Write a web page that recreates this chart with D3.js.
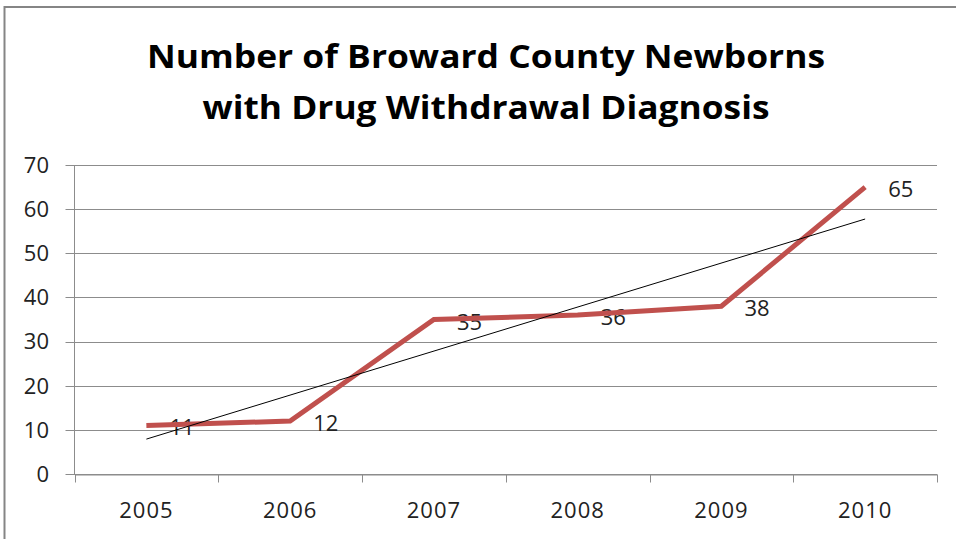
<!DOCTYPE html>
<html>
<head>
<meta charset="utf-8">
<script src="https://cdn.jsdelivr.net/npm/d3@7"></script>
<style>
  html, body { margin: 0; padding: 0; background: #fff; }
  svg { display: block; }
  text { font-family: "Open Sans", "Liberation Sans", sans-serif; }
</style>
</head>
<body>
<svg id="chart" width="956" height="539"></svg>
<script>
// Newborns diagnosed with drug withdrawal, Broward County
const years = ["2005", "2006", "2007", "2008", "2009", "2010"];
const cases = [11, 12, 35, 36, 38, 65];
const yTicks = [0, 10, 20, 30, 40, 50, 60, 70];
const titleLines = ["Number of Broward County Newborns", "with Drug Withdrawal Diagnosis"];

const svg = d3.select("#chart");
const W = 956, H = 539;
const plot = { left: 74.5, right: 937, top: 165, bottom: 474 };

// outer frame
svg.append("rect")
  .attr("x", 4.5).attr("y", 7)
  .attr("width", W + 20).attr("height", H + 20)
  .attr("fill", "#fff")
  .attr("stroke", "#858585").attr("stroke-width", 2);

// title, two centred lines fitted to their widths
const titleSpec = [
  { text: titleLines[0], y: 68, width: 678 },
  { text: titleLines[1], y: 119, width: 567 }
];
titleSpec.forEach(t => {
  const el = svg.append("text")
    .attr("x", 486).attr("y", t.y)
    .attr("text-anchor", "middle")
    .attr("font-size", 33).attr("font-weight", 700)
    .attr("fill", "#000")
    .text(t.text);
  const len = el.node().getComputedTextLength();
  if (Math.abs(len - t.width) > 2) {
    el.attr("textLength", t.width).attr("lengthAdjust", "spacingAndGlyphs");
  }
});

const x = d3.scaleBand().domain(years).range([plot.left, plot.right]).padding(0);
const y = d3.scaleLinear().domain([0, 70]).range([plot.bottom, plot.top]);

// horizontal gridlines with short tick stubs on the left
const grid = svg.append("g");
yTicks.forEach(v => {
  grid.append("line")
    .attr("x1", plot.left - 9).attr("x2", plot.right)
    .attr("y1", Math.round(y(v)) + 0.5).attr("y2", Math.round(y(v)) + 0.5)
    .attr("stroke", "#8c8c8c").attr("stroke-width", 1);
});

// y axis labels
const yAxis = svg.append("g");
yTicks.forEach(v => {
  yAxis.append("text")
    .attr("x", 49).attr("y", y(v))
    .attr("dy", "0.36em")
    .attr("text-anchor", "end")
    .attr("font-size", 22).attr("fill", "#222")
    .text(v);
});

// y axis line
svg.append("line")
  .attr("x1", plot.left).attr("x2", plot.left)
  .attr("y1", plot.top).attr("y2", plot.bottom)
  .attr("stroke", "#8c8c8c").attr("stroke-width", 1);

// x axis with ticks between categories
const xAxis = d3.axisBottom(x).tickSize(0).tickFormat(d => d);
const xg = svg.append("g")
  .attr("transform", `translate(0,${Math.round(plot.bottom) + 0.5})`)
  .call(xAxis);
xg.select(".domain").attr("stroke", "#8c8c8c");
xg.selectAll(".tick text")
  .attr("y", 0).attr("dy", 0)
  .attr("transform", "translate(0,43)")
  .attr("font-family", "\"Open Sans\", sans-serif")
  .attr("font-size", 22).attr("fill", "#222")
  .attr("letter-spacing", 1);
const edges = years.map(d => x(d)).concat([x(years[years.length - 1]) + x.bandwidth()]);
edges.forEach(e => {
  xg.append("line")
    .attr("x1", Math.round(e) + 0.5).attr("x2", Math.round(e) + 0.5)
    .attr("y1", 0).attr("y2", 8)
    .attr("stroke", "#8c8c8c");
});

const cx = d => x(d) + x.bandwidth() / 2;

// value labels (sit beneath the lines)
svg.append("g").selectAll("text")
  .data(years)
  .join("text")
  .attr("x", (d) => cx(d) + 23)
  .attr("y", (d, i) => y(cases[i]) + 10)
  .attr("font-size", 22).attr("fill", "#222")
  .text((d, i) => cases[i]);

// series line
const line = d3.line().x(d => cx(d[0])).y(d => y(d[1]));
svg.append("path")
  .datum(years.map((d, i) => [d, cases[i]]))
  .attr("d", line)
  .attr("fill", "none")
  .attr("stroke", "#c0504d")
  .attr("stroke-width", 5)
  .attr("stroke-linejoin", "miter")
  .attr("stroke-linecap", "butt");

// linear trendline (least squares over category index)
const n = cases.length;
const idx = d3.range(1, n + 1);
const mx = d3.mean(idx), my = d3.mean(cases);
const slope = d3.sum(idx, (k, i) => (k - mx) * (cases[i] - my)) / d3.sum(idx, k => (k - mx) ** 2);
const intercept = my - slope * mx;
svg.append("path")
  .datum([[years[0], intercept + slope * 1], [years[n - 1], intercept + slope * n]])
  .attr("d", line)
  .attr("fill", "none")
  .attr("stroke", "#000")
  .attr("stroke-width", 1);
</script>
</body>
</html>
